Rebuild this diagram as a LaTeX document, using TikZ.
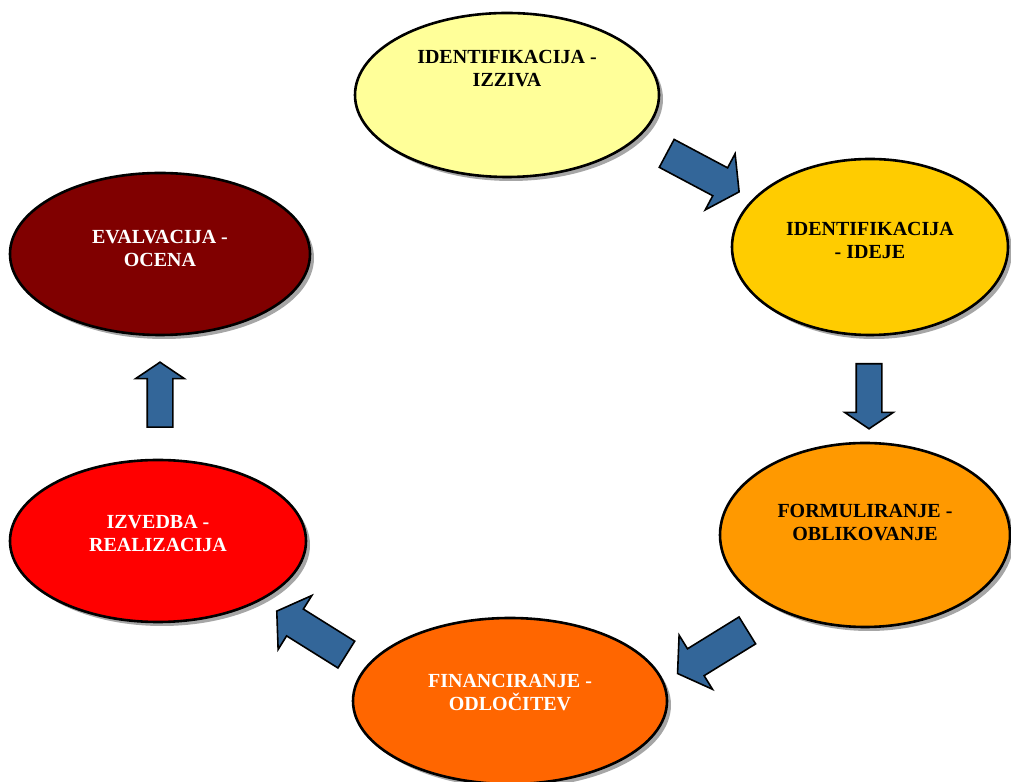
\documentclass[tikz,border=0pt]{standalone}
\usepackage{fontspec}
\setmainfont{Liberation Serif}
\usetikzlibrary{shapes.geometric,shapes.arrows,shadows}
\definecolor{izziv}{HTML}{FFFF99}
\definecolor{ideja}{HTML}{FFCC00}
\definecolor{oblika}{HTML}{FF9900}
\definecolor{financa}{HTML}{FF6600}
\definecolor{izvedba}{HTML}{FF0000}
\definecolor{ocena}{HTML}{800000}
\definecolor{arrowblue}{HTML}{336699}

\begin{document}
\begin{tikzpicture}[x=0.5pt, y=0.5pt,
  phase/.style={ellipse, draw=black, line width=1.3pt, inner sep=0pt,
                drop shadow={shadow xshift=2pt, shadow yshift=-2pt, fill=gray, opacity=0.7}},
  lab/.style={font=\fontsize{10}{11.5}\selectfont\bfseries, align=center},
  blockarrow/.style={single arrow, draw=black, fill=arrowblue, line width=0.8pt,
                     inner xsep=0pt, single arrow tip angle=112, anchor=tail},
  straight/.style={minimum height=32.5pt, inner ysep=6pt, single arrow head extend=5.75pt},
  slanted/.style={minimum height=41pt, inner ysep=7.5pt, single arrow head extend=8pt}]

\useasboundingbox (0,0) rectangle (1011,781);

% phases
\node[phase, fill=izziv, minimum width=152pt, minimum height=82pt] (izziv) at (507,686) {};
\node[lab] (izzivlab) at ([yshift=13pt]izziv.center) {IDENTIFIKACIJA -\\IZZIVA};

\node[phase, fill=ideja, minimum width=138pt, minimum height=88pt] (ideja) at (870,534) {};
\node[lab] (idejalab) at ([yshift=3.5pt]ideja.center) {IDENTIFIKACIJA\\- IDEJE};

\node[phase, fill=oblika, minimum width=145pt, minimum height=92pt] (oblika) at (865,246) {};
\node[lab] (oblikalab) at ([yshift=6pt]oblika.center) {FORMULIRANJE -\\OBLIKOVANJE};

\node[phase, fill=financa, minimum width=157pt, minimum height=83pt] (financa) at (510,80) {};
\node[lab, text=white] (financalab) at ([yshift=4pt]financa.center) {FINANCIRANJE -\\ODLOČITEV};

\node[phase, fill=izvedba, minimum width=148pt, minimum height=81pt] (izvedba) at (158,240) {};
\node[lab, text=white] (izvedbalab) at ([yshift=3.5pt]izvedba.center) {IZVEDBA -\\REALIZACIJA};

\node[phase, fill=ocena, minimum width=150pt, minimum height=81pt] (ocena) at (160,527) {};
\node[lab, text=white] (ocenalab) at ([yshift=3pt]ocena.center) {EVALVACIJA -\\OCENA};

% cycle arrows
\node[blockarrow, slanted, rotate=-28] (a1) at (666,628) {};
\node[blockarrow, straight, rotate=-90] (a2) at (869,418) {};
\node[blockarrow, slanted, rotate=211.7] (a3) at (748,151) {};
\node[blockarrow, slanted, rotate=148] (a4) at (347,126) {};
\node[blockarrow, straight, rotate=90] (a5) at (160,353) {};

\end{tikzpicture}
\end{document}
